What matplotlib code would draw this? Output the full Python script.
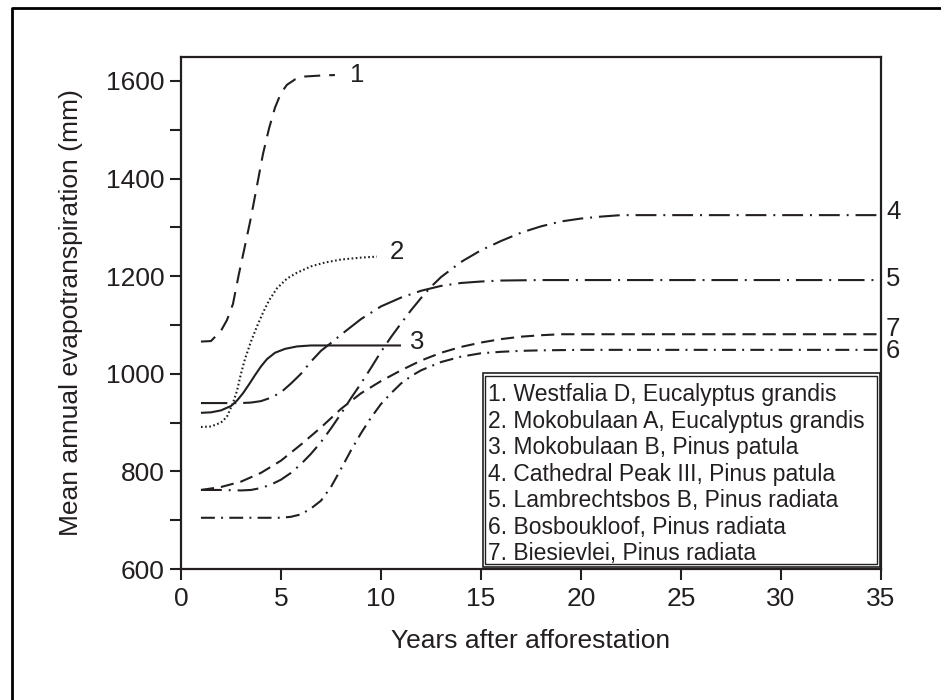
import matplotlib
matplotlib.use('Agg')
import matplotlib.pyplot as plt
from matplotlib.lines import Line2D
from matplotlib.patches import Rectangle

plt.rcParams['font.family'] = ['Liberation Sans', 'DejaVu Sans']
plt.rcParams['lines.scale_dashes'] = False

# Values (years after afforestation, mm)
x1 = [1, 1.5, 2, 2.3, 2.6, 2.9, 3.2, 3.5, 3.8, 4.1, 4.4, 4.7, 5.0, 5.3, 5.7, 6.2, 7.0, 7.7]
y1 = [1066, 1067, 1088, 1110, 1143, 1205, 1262, 1320, 1385, 1450, 1502, 1545, 1575, 1592, 1603, 1609, 1611, 1612]

x2 = [1, 1.5, 2, 2.3, 2.6, 2.8, 3.0, 3.2, 3.5, 3.8, 4.1, 4.4, 4.8, 5.3, 5.8, 6.5, 7.2, 8.0, 9.0, 9.8]
y2 = [891, 892, 900, 912, 940, 965, 1000, 1030, 1066, 1097, 1125, 1150, 1175, 1195, 1207, 1220, 1228, 1234, 1238, 1240]

x3 = [1, 1.5, 2, 2.5, 2.8, 3.1, 3.4, 3.7, 4.0, 4.3, 4.7, 5.2, 5.8, 6.5, 8, 11]
y3 = [920, 921, 925, 934, 945, 960, 978, 997, 1015, 1030, 1043, 1051, 1056, 1058, 1058, 1058]

x4 = [1, 2, 3, 3.5, 4, 4.5, 5, 5.5, 6, 6.5, 7, 7.5, 8, 8.5, 9, 9.5, 10, 10.5, 11, 11.5,
      12, 12.5, 13, 14, 15, 16, 17, 18, 19, 20, 21, 22, 25, 30, 35]
y4 = [762, 762, 761, 762, 766, 773, 783, 797, 815, 836, 860, 888, 918, 950, 980, 1012, 1045, 1075, 1103, 1130,
      1155, 1178, 1198, 1229, 1253, 1272, 1289, 1302, 1312, 1318, 1322, 1325, 1325, 1325, 1325]

x5 = [1, 2, 3, 3.5, 4, 4.5, 5, 5.5, 6, 6.5, 7, 7.5, 8, 9, 10, 11, 12, 13, 14, 15, 16, 18, 20, 25, 30, 35]
y5 = [940, 940, 940, 941, 944, 951, 962, 980, 1000, 1025, 1047, 1063, 1080, 1112, 1138, 1156, 1170, 1180, 1186, 1189,
      1191, 1192, 1192, 1192, 1192, 1192]

x6 = [1, 3, 5, 5.5, 6, 6.5, 7, 7.5, 8, 8.5, 9, 9.5, 10, 10.5, 11, 11.5, 12, 13, 14, 15, 16, 17, 18, 20, 25, 30, 35]
y6 = [705, 705, 705, 707, 712, 724, 740, 768, 805, 843, 878, 910, 938, 960, 980, 995, 1007, 1024, 1035, 1042,
      1045, 1047, 1048, 1049, 1049, 1049, 1049]

x7 = [1, 2, 3, 4, 5, 6, 7, 8, 9, 10, 11, 12, 13, 14, 15, 16, 17, 18, 19, 20, 25, 30, 35]
y7 = [762, 768, 779, 797, 822, 855, 890, 928, 960, 985, 1007, 1027, 1043, 1055, 1064, 1071, 1076, 1079, 1081, 1081,
      1081, 1081, 1081]

curve_labels = ['1', '2', '3', '4', '5', '6', '7']
legend_items = [
    '1. Westfalia D, Eucalyptus grandis',
    '2. Mokobulaan A, Eucalyptus grandis',
    '3. Mokobulaan B, Pinus patula',
    '4. Cathedral Peak III, Pinus patula',
    '5. Lambrechtsbos B, Pinus radiata',
    '6. Bosboukloof, Pinus radiata',
    '7. Biesievlei, Pinus radiata',
]

ink = '#231f20'
styles = [
    (0, (11.5, 6.5)),                 # 1 dashed
    (0, (1.2, 1.8)),                  # 2 dotted
    '-',                              # 3 solid
    (0, (15, 5, 1.4, 5)),             # 4 dash-dot
    (0, (19, 5, 1.4, 5)),             # 5 long dash-dot
    (0, (10, 4.5, 1.4, 4.5)),         # 6 short dash-dot
    (0, (9.5, 5)),                    # 7 short dash
]
series = [(x1, y1), (x2, y2), (x3, y3), (x4, y4), (x5, y5), (x6, y6), (x7, y7)]

fig = plt.figure(figsize=(9.41, 7.0), dpi=100)
ax = fig.add_axes([0.1923, 0.1871, 0.7439, 0.7315])

for (xs, ys), ls in zip(series, styles):
    ax.plot(xs, ys, color=ink, lw=1.5, linestyle=ls, dash_capstyle='butt', solid_capstyle='butt')

# Curve numbers at the ends of the lines
label_pos = [(8.45, 1612), (10.45, 1250), (11.45, 1065), (35.25, 1331), (35.25, 1194), (35.25, 1047), (35.25, 1092)]
for s, (lx, ly) in zip(curve_labels, label_pos):
    ax.text(lx, ly, s, fontsize=18.5, color=ink, ha='left', va='center', clip_on=False)

ax.set_xlim(0, 35)
ax.set_ylim(600, 1649)
ax.set_xticks(range(0, 36, 5))
ax.set_yticks(range(600, 1601, 200))
ax.set_yticks(range(700, 1601, 200), minor=True)
ax.tick_params(which='both', direction='out', length=8, width=1.5, color=ink, labelsize=19, labelcolor=ink)
ax.tick_params(axis='y', pad=4)
ax.tick_params(axis='x', pad=5)
for sp in ax.spines.values():
    sp.set_linewidth(1.6)
    sp.set_color(ink)

ax.set_xlabel('Years after afforestation', fontsize=19, color=ink)
ax.set_ylabel('Mean annual evapotranspiration (mm)', fontsize=19, color=ink)
ax.xaxis.set_label_coords(0.5, -0.118)
ax.yaxis.set_label_coords(-0.14, 0.5)

# Legend box with double border
for off, lw in [(0.0, 1.2), (0.004, 1.0)]:
    ax.add_patch(Rectangle((0.431 + off, 0.0045 + off * 1.37), 0.5676 - 2 * off, 0.3789 - 2 * off * 1.37,
                           transform=ax.transAxes, fill=False, lw=lw, edgecolor=ink, zorder=5))
for i, s in enumerate(legend_items):
    ax.text(0.4386, 0.340 - i * 0.0516, s, transform=ax.transAxes, fontsize=16.5, color=ink,
            ha='left', va='center', zorder=6)

# Outer frame (only left and top edges fall inside the image)
fig.add_artist(Line2D([11.5 / 941, 11.5 / 941, 1.0], [0.0, 1 - 7.5 / 700, 1 - 7.5 / 700],
                      transform=fig.transFigure, color='black', lw=2.0))

fig.savefig('out.png', dpi=100)
